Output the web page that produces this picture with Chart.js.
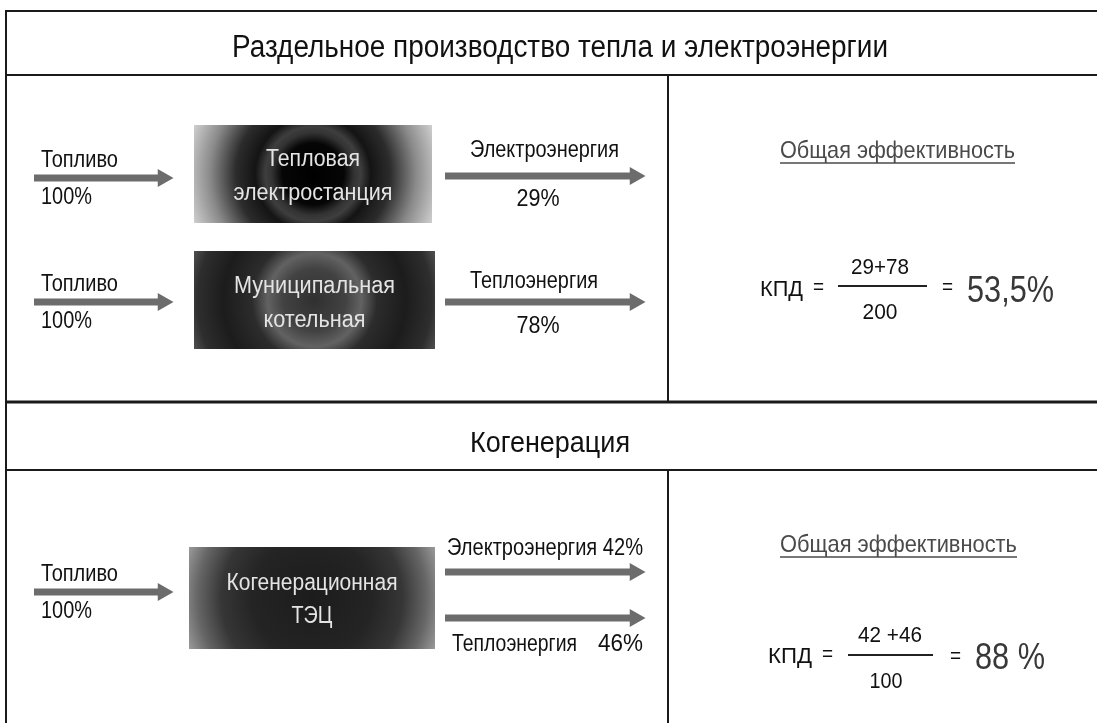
<!DOCTYPE html>
<html>
<head>
<meta charset="utf-8">
<script src="https://cdn.jsdelivr.net/npm/chart.js@4.4.1/dist/chart.umd.min.js"></script>
<style>
  html, body { margin: 0; background: #fff; }
  #wrap { width: 1097px; height: 723px; }
</style>
</head>
<body>
<div id="wrap"><canvas id="scheme"></canvas></div>
<script>
// Texts and values of the scheme
const sectionTitles = ['Раздельное производство тепла и электроэнергии', 'Когенерация'];
const plantNames = [['Тепловая', 'электростанция'], ['Муниципальная', 'котельная'], ['Когенерационная', 'ТЭЦ']];
const fuelLabel = 'Топливо';
const fuelInput = [100, 100, 100];          // % of fuel going into each plant
const outputNames = ['Электроэнергия', 'Теплоэнергия'];
const separateOutput = [29, 78];            // electricity from power plant, heat from boiler
const cogenOutput = [42, 46];               // electricity, heat from CHP
const efficiencyLabel = 'Общая эффективность';

// Layout of the diagram (units of the hidden x/y scales)
const W = 1097, H = 723;
const FONT = '"Liberation Sans", Arial, sans-serif';
const fuelRows = [178, 302, 592];          // y of the fuel arrows
const outRows = [176, 302, 572, 618];      // y of the output arrows
const boxes = [
  { x: 194, y: 125, w: 238, h: 98, stops: [[0, '#000'], [0.24, '#060606'], [0.32, '#333'], [0.37, '#3e3e3e'], [0.45, '#141414'], [0.6, '#2c2c2c'], [0.8, '#8a8a8a'], [1, '#cfcfcf']] },
  { x: 194, y: 251, w: 241, h: 98, stops: [[0, '#303030'], [0.24, '#424242'], [0.36, '#626262'], [0.48, '#2c2c2c'], [0.7, '#1c1c1c'], [0.9, '#2e2e2e'], [1, '#505050']] },
  { x: 189, y: 547, w: 246, h: 102, stops: [[0, '#1c1c1c'], [0.45, '#242424'], [0.68, '#363636'], [0.86, '#666'], [1, '#9a9a9a']] }
];

// efficiency values computed from the data
const sepDen = fuelInput[0] + fuelInput[1];
const sepEff = (separateOutput[0] + separateOutput[1]) / sepDen * 100;
const cogenDen = fuelInput[2];
const cogenEff = (cogenOutput[0] + cogenOutput[1]) / cogenDen * 100;

// arrow = thick grey shaft with triangle head + a lighter stripe in the middle
function arrowDatasets(x0, tip, y) {
  return [{
    type: 'line',
    data: [{ x: x0, y: y }, { x: tip - 10, y: y }],
    borderColor: '#6c6c6c',
    borderWidth: 7,
    pointRadius: [0, 10.5],
    pointStyle: 'triangle',
    pointRotation: 90,
    pointBackgroundColor: '#6c6c6c',
    pointBorderWidth: 0,
    showLine: true
  }, {
    type: 'line',
    data: [{ x: x0 + 1, y: y }, { x: tip - 14, y: y }],
    borderColor: '#8e8e8e',
    borderWidth: 2,
    pointRadius: 0,
    showLine: true
  }];
}

const datasets = [];
fuelRows.forEach(y => datasets.push(...arrowDatasets(34, 173, y)));
outRows.forEach(y => datasets.push(...arrowDatasets(445, 645, y)));

const diagramPlugin = {
  id: 'diagram',
  beforeDatasetsDraw(chart) {
    const ctx = chart.ctx;
    const X = v => chart.scales.x.getPixelForValue(v);
    const Y = v => chart.scales.y.getPixelForValue(v);
    ctx.save();
    ctx.strokeStyle = '#1a1a1a';
    const line = (x0, y0, x1, y1, lw) => {
      ctx.lineWidth = lw || 2;
      ctx.beginPath(); ctx.moveTo(X(x0), Y(y0)); ctx.lineTo(X(x1), Y(y1)); ctx.stroke();
    };
    // frame and dividers
    line(5, 11, W, 11);
    line(6, 11, 6, H);
    line(6, 75, W, 75);
    line(668, 75, 668, 402);
    line(6, 402, W, 402, 3);
    line(6, 470, W, 470);
    line(668, 470, 668, H);
    // plant boxes with radial shading
    boxes.forEach(b => {
      const cx = X(b.x + b.w / 2), cy = Y(b.y + b.h / 2);
      const r = Math.hypot(b.w / 2, b.h / 2);
      const g = ctx.createRadialGradient(cx, cy, 0, cx, cy, r);
      b.stops.forEach(s => g.addColorStop(s[0], s[1]));
      ctx.fillStyle = g;
      ctx.fillRect(X(b.x), Y(b.y), X(b.x + b.w) - X(b.x), Y(b.y + b.h) - Y(b.y));
    });
    ctx.restore();
  },
  afterDatasetsDraw(chart) {
    const ctx = chart.ctx;
    const X = v => chart.scales.x.getPixelForValue(v);
    const Y = v => chart.scales.y.getPixelForValue(v);
    // text on a baseline, squeezed to a target width if given
    const text = (str, x, base, size, opt) => {
      opt = opt || {};
      ctx.save();
      ctx.font = size + 'px ' + FONT;
      ctx.fillStyle = opt.color || '#111';
      ctx.textBaseline = 'alphabetic';
      ctx.textAlign = 'left';
      const w = ctx.measureText(str).width;
      const sx = opt.width ? opt.width / w : (opt.squeeze || 0.86);
      let left = X(x);
      if (opt.align === 'center') left -= w * sx / 2;
      if (opt.align === 'right') left -= w * sx;
      ctx.translate(left, Y(base));
      ctx.scale(sx, 1);
      ctx.fillText(str, 0, 0);
      if (opt.underline) {
        ctx.strokeStyle = opt.color || '#111';
        ctx.lineWidth = 1.6;
        ctx.beginPath(); ctx.moveTo(0, 5); ctx.lineTo(w, 5); ctx.stroke();
      }
      ctx.restore();
    };
    const bar = (x0, x1, y) => {
      ctx.save();
      ctx.strokeStyle = '#222';
      ctx.lineWidth = 2;
      ctx.beginPath(); ctx.moveTo(X(x0), Y(y)); ctx.lineTo(X(x1), Y(y)); ctx.stroke();
      ctx.restore();
    };
    const fmt = v => String(Math.round(v * 10) / 10).replace('.', ',');

    // section titles
    text(sectionTitles[0], 232, 57, 31, { width: 656 });
    text(sectionTitles[1], 470, 452, 30, { width: 160 });

    // fuel inputs
    fuelRows.forEach((y, i) => {
      text(fuelLabel, 41, y - 11, 23, { width: 77 });
      text(fuelInput[i] + '%', 41, y + 26, 23, { width: 51 });
    });

    // plant names
    const nameBase = [[166, 200], [293, 327], [590, 623]];
    const nameWidth = [[94, 159], [161, 102], [171, null]];
    plantNames.forEach((n, i) => {
      const b = boxes[i];
      n.forEach((s, j) => {
        text(s, b.x + b.w / 2, nameBase[i][j], 23,
          { align: 'center', color: '#e4e4e4', width: nameWidth[i][j] || undefined });
      });
    });

    // separate production outputs
    text(outputNames[0], 470, 157, 23, { width: 149 });
    text(separateOutput[0] + '%', 538, 206, 23, { align: 'center', width: 43 });
    text(outputNames[1], 470, 288, 23, { width: 128 });
    text(separateOutput[1] + '%', 538, 333, 23, { align: 'center', width: 43 });

    // cogeneration outputs
    text(outputNames[0] + ' ' + cogenOutput[0] + '%', 447, 555, 23, { width: 196 });
    text(outputNames[1], 452, 651, 23, { width: 125 });
    text(cogenOutput[1] + '%', 643, 651, 23, { align: 'right', width: 45 });

    // efficiency of separate production
    text(efficiencyLabel, 780, 158, 24, { color: '#4a4a4a', underline: true, width: 235 });
    text('КПД', 760, 296, 22, { width: 43 });
    text('=', 813, 294, 22, {});
    bar(838, 927, 286);
    text(separateOutput[0] + '+' + separateOutput[1], 880, 274, 22, { align: 'center', width: 58 });
    text(String(sepDen), 880, 319, 22, { align: 'center', width: 35 });
    text('=', 942, 294, 22, {});
    text(fmt(sepEff) + '%', 967, 302, 37, { color: '#383838', width: 87 });

    // efficiency of cogeneration
    text(efficiencyLabel, 780, 552, 24, { color: '#4a4a4a', underline: true, width: 237 });
    text('КПД', 768, 663, 22, { width: 44 });
    text('=', 822, 661, 22, {});
    bar(848, 933, 655);
    text(cogenOutput[0] + ' +' + cogenOutput[1], 890, 642, 22, { align: 'center', width: 64 });
    text(String(cogenDen), 886, 688, 22, { align: 'center', width: 33 });
    text('=', 950, 663, 22, {});
    text(fmt(cogenEff) + ' %', 975, 669, 37, { color: '#383838', width: 70 });
  }
};

new Chart(document.getElementById('scheme'), {
  type: 'scatter',
  data: { datasets: datasets },
  options: {
    responsive: true,
    maintainAspectRatio: false,
    animation: false,
    events: [],
    layout: { padding: 0, autoPadding: false },
    plugins: { legend: { display: false }, tooltip: { enabled: false } },
    scales: {
      x: { type: 'linear', min: 0, max: W, display: false },
      y: { type: 'linear', min: 0, max: H, reverse: true, display: false }
    }
  },
  plugins: [diagramPlugin]
});
</script>
</body>
</html>
